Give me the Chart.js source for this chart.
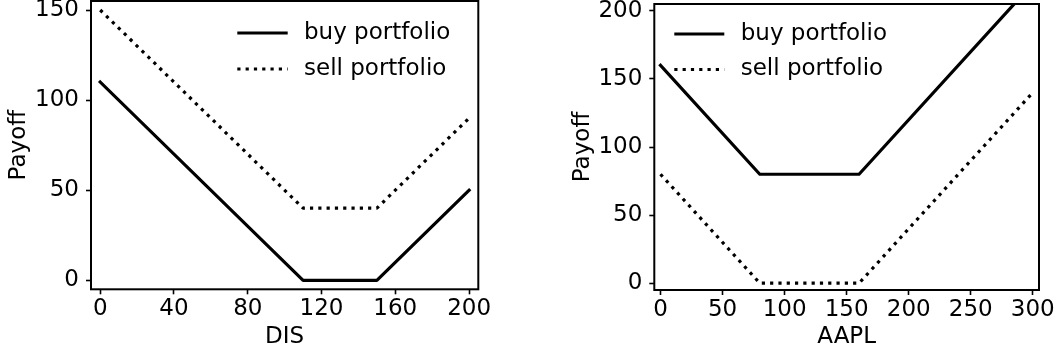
<!DOCTYPE html>
<html><head><meta charset="utf-8">
<script src="https://cdn.jsdelivr.net/npm/chart.js@4.4.1/dist/chart.umd.min.js"></script>
<style>
html,body{margin:0;padding:0;background:#fff;}
#wrap{position:relative;width:1060px;height:354px;overflow:hidden;}
canvas{position:absolute;top:0;}
#c1{left:0}
#c2{left:530px}
</style></head><body>
<div id="wrap"><canvas id="c1" width="530" height="354"></canvas><canvas id="c2" width="530" height="354"></canvas></div>
<script>
// ---- data ----
const seriesLabels = ['buy portfolio', 'sell portfolio'];

const disPrice = [0, 110, 150, 200];
const disBuy   = [110, 0, 0, 50];
const disSell  = [150, 40, 40, 90];
const disXTicks = [0, 40, 80, 120, 160, 200];
const disYTicks = [0, 50, 100, 150];

const aaplPrice = [0, 80, 160, 300];
const aaplBuy   = [160, 80, 80, 220];
const aaplSell  = [80, 0, 0, 140];
const aaplXTicks = [0, 50, 100, 150, 200, 250, 300];
const aaplYTicks = [0, 50, 100, 150, 200];

// ---- style ----
const FS = 23;
Chart.defaults.font.family = '"DejaVu Sans", sans-serif';
Chart.defaults.font.size = FS;
Chart.defaults.font.lineHeight = 1.2;
Chart.defaults.color = '#000';

const boxPlugin = {
  id: 'box',
  afterDatasetsDraw(chart) {
    const {ctx, chartArea: a} = chart;
    ctx.save();
    ctx.strokeStyle = '#000';
    ctx.lineWidth = 2;
    ctx.strokeRect(a.left, a.top, a.right - a.left, a.bottom - a.top);
    ctx.restore();
  }
};

const legendPlugin = {
  id: 'mplLegend',
  afterDraw(chart, args, opts) {
    const ctx = chart.ctx;
    chart.data.datasets.forEach((ds, i) => {
      const y = opts.y + i * opts.rowGap;
      ctx.save();
      ctx.strokeStyle = ds.borderColor;
      ctx.lineWidth = ds.borderWidth;
      ctx.setLineDash(ds.borderDash || []);
      ctx.lineCap = 'butt';
      ctx.beginPath();
      ctx.moveTo(opts.x, y);
      ctx.lineTo(opts.x + opts.handle, y);
      ctx.stroke();
      ctx.setLineDash([]);
      ctx.fillStyle = '#000';
      ctx.font = FS + 'px "DejaVu Sans"';
      ctx.textBaseline = 'middle';
      ctx.textAlign = 'left';
      ctx.fillText(ds.label, opts.x + opts.handle + opts.gap, y);
      ctx.restore();
    });
  }
};

function makeChart(id, xs, buy, sell, xTicks, yTicks, xTitle, L) {
  return new Chart(document.getElementById(id), {
    type: 'line',
    data: {
      datasets: [
        {label: seriesLabels[0], data: xs.map((x, i) => ({x: x, y: buy[i]})),
         borderColor: '#000', borderWidth: 3.2, pointRadius: 0, borderCapStyle: 'square',
         borderJoinStyle: 'round', clip: 0, fill: false, tension: 0},
        {label: seriesLabels[1], data: xs.map((x, i) => ({x: x, y: sell[i]})),
         borderColor: '#000', borderWidth: 3.2, borderDash: [3.2, 5.1], pointRadius: 0,
         borderCapStyle: 'butt', borderJoinStyle: 'round', clip: 0, fill: false, tension: 0}
      ]
    },
    options: {
      responsive: false, animation: false, devicePixelRatio: 1,
      layout: {padding: {left: 0, top: L.padTop, right: L.padRight, bottom: 0}},
      plugins: {
        legend: {display: false}, tooltip: {enabled: false},
        mplLegend: L.legend
      },
      scales: {
        x: {
          type: 'linear', min: L.xMin, max: L.xMax,
          afterBuildTicks: s => { s.ticks = xTicks.map(v => ({value: v})); },
          afterFit: s => { s.height = L.xHeight; s.paddingLeft = 0; s.paddingRight = 0; },
          grid: {display: true, drawOnChartArea: false, drawTicks: true, tickLength: 5, tickColor: '#000', tickWidth: 1.6},
          border: {display: false},
          ticks: {color: '#000', padding: 1, maxRotation: 0, autoSkip: false},
          title: {display: true, text: xTitle, color: '#000', padding: {top: 0, bottom: 3.2}}
        },
        y: {
          type: 'linear', min: L.yMin, max: L.yMax,
          afterBuildTicks: s => { s.ticks = yTicks.map(v => ({value: v})); },
          afterFit: s => { s.width = L.yWidth; s.paddingTop = 0; s.paddingBottom = 0; },
          grid: {display: true, drawOnChartArea: false, drawTicks: true, tickLength: 5, tickColor: '#000', tickWidth: 1.6},
          border: {display: false},
          ticks: {color: '#000', padding: 7, autoSkip: false},
          title: {display: true, text: 'Payoff', color: '#000', padding: {top: L.yTitlePad, bottom: 0}}
        }
      }
    },
    plugins: [boxPlugin, legendPlugin]
  });
}

makeChart('c1', disPrice, disBuy, disSell, disXTicks, disYTicks, 'DIS', {
  yWidth: 91, xHeight: 64.7, padTop: 1, padRight: 51.7,
  xMin: -5, xMax: 205, yMin: -5, yMax: 155, yTitlePad: 5.7,
  legend: {x: 237.3, y: 33, rowGap: 36, handle: 50.4, gap: 16.3}
});
makeChart('c2', aaplPrice, aaplBuy, aaplSell, aaplXTicks, aaplYTicks, 'AAPL', {
  yWidth: 124.3, xHeight: 64, padTop: 4, padRight: 21,
  xMin: -5, xMax: 305, yMin: -5, yMax: 205, yTitlePad: 39.2,
  legend: {x: 144.3, y: 34, rowGap: 35.5, handle: 50, gap: 16.4}
});
</script>
</body></html>
